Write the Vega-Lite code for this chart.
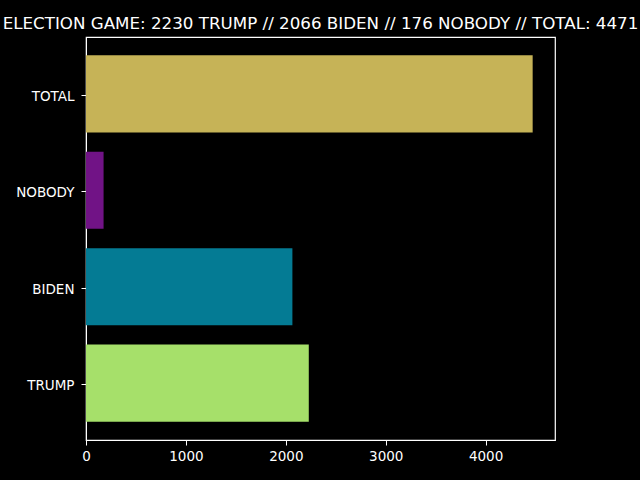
{
  "$schema": "https://vega.github.io/schema/vega-lite/v6.json",
  "autosize": {"type": "none"},
  "padding": {"left": 86, "top": 37, "right": 85, "bottom": 40},
  "width": 469,
  "height": 403,
  "background": "#000000",
  "title": {
    "text": "ELECTION GAME: 2230 TRUMP // 2066 BIDEN // 176 NOBODY // TOTAL: 4471",
    "font": "DejaVu Sans",
    "fontSize": 16.7,
    "fontWeight": "normal",
    "color": "#ffffff",
    "anchor": "middle",
    "offset": 4
  },
  "config": {
    "view": {"stroke": "#ffffff", "strokeWidth": 1.2},
    "axis": {
      "labelFont": "DejaVu Sans",
      "labelFontSize": 13.5,
      "labelColor": "#ffffff",
      "domainColor": "#ffffff",
      "tickColor": "#ffffff",
      "tickSize": 5,
      "grid": false,
      "title": null
    }
  },
  "data": {
    "values": [
      {"name": "TRUMP", "votes": 2230, "color": "#a6e06a"},
      {"name": "BIDEN", "votes": 2066, "color": "#047b94"},
      {"name": "NOBODY", "votes": 176, "color": "#711386"},
      {"name": "TOTAL", "votes": 4471, "color": "#c6b357"}
    ]
  },
  "mark": {"type": "bar"},
  "encoding": {
    "y": {
      "field": "name",
      "type": "nominal",
      "sort": ["TOTAL", "NOBODY", "BIDEN", "TRUMP"],
      "scale": {"paddingInner": 0.2, "paddingOuter": 0.19},
      "axis": {"labelPadding": 7, "labelOffset": 1.5, "tickOffset": 1, "domain": true}
    },
    "x": {
      "field": "votes",
      "type": "quantitative",
      "scale": {"domain": [0, 4694.55], "nice": false, "zero": true},
      "axis": {"values": [0, 1000, 2000, 3000, 4000], "format": "d", "labelPadding": 4, "labelFlush": false}
    },
    "color": {"field": "color", "type": "nominal", "scale": null, "legend": null}
  }
}
